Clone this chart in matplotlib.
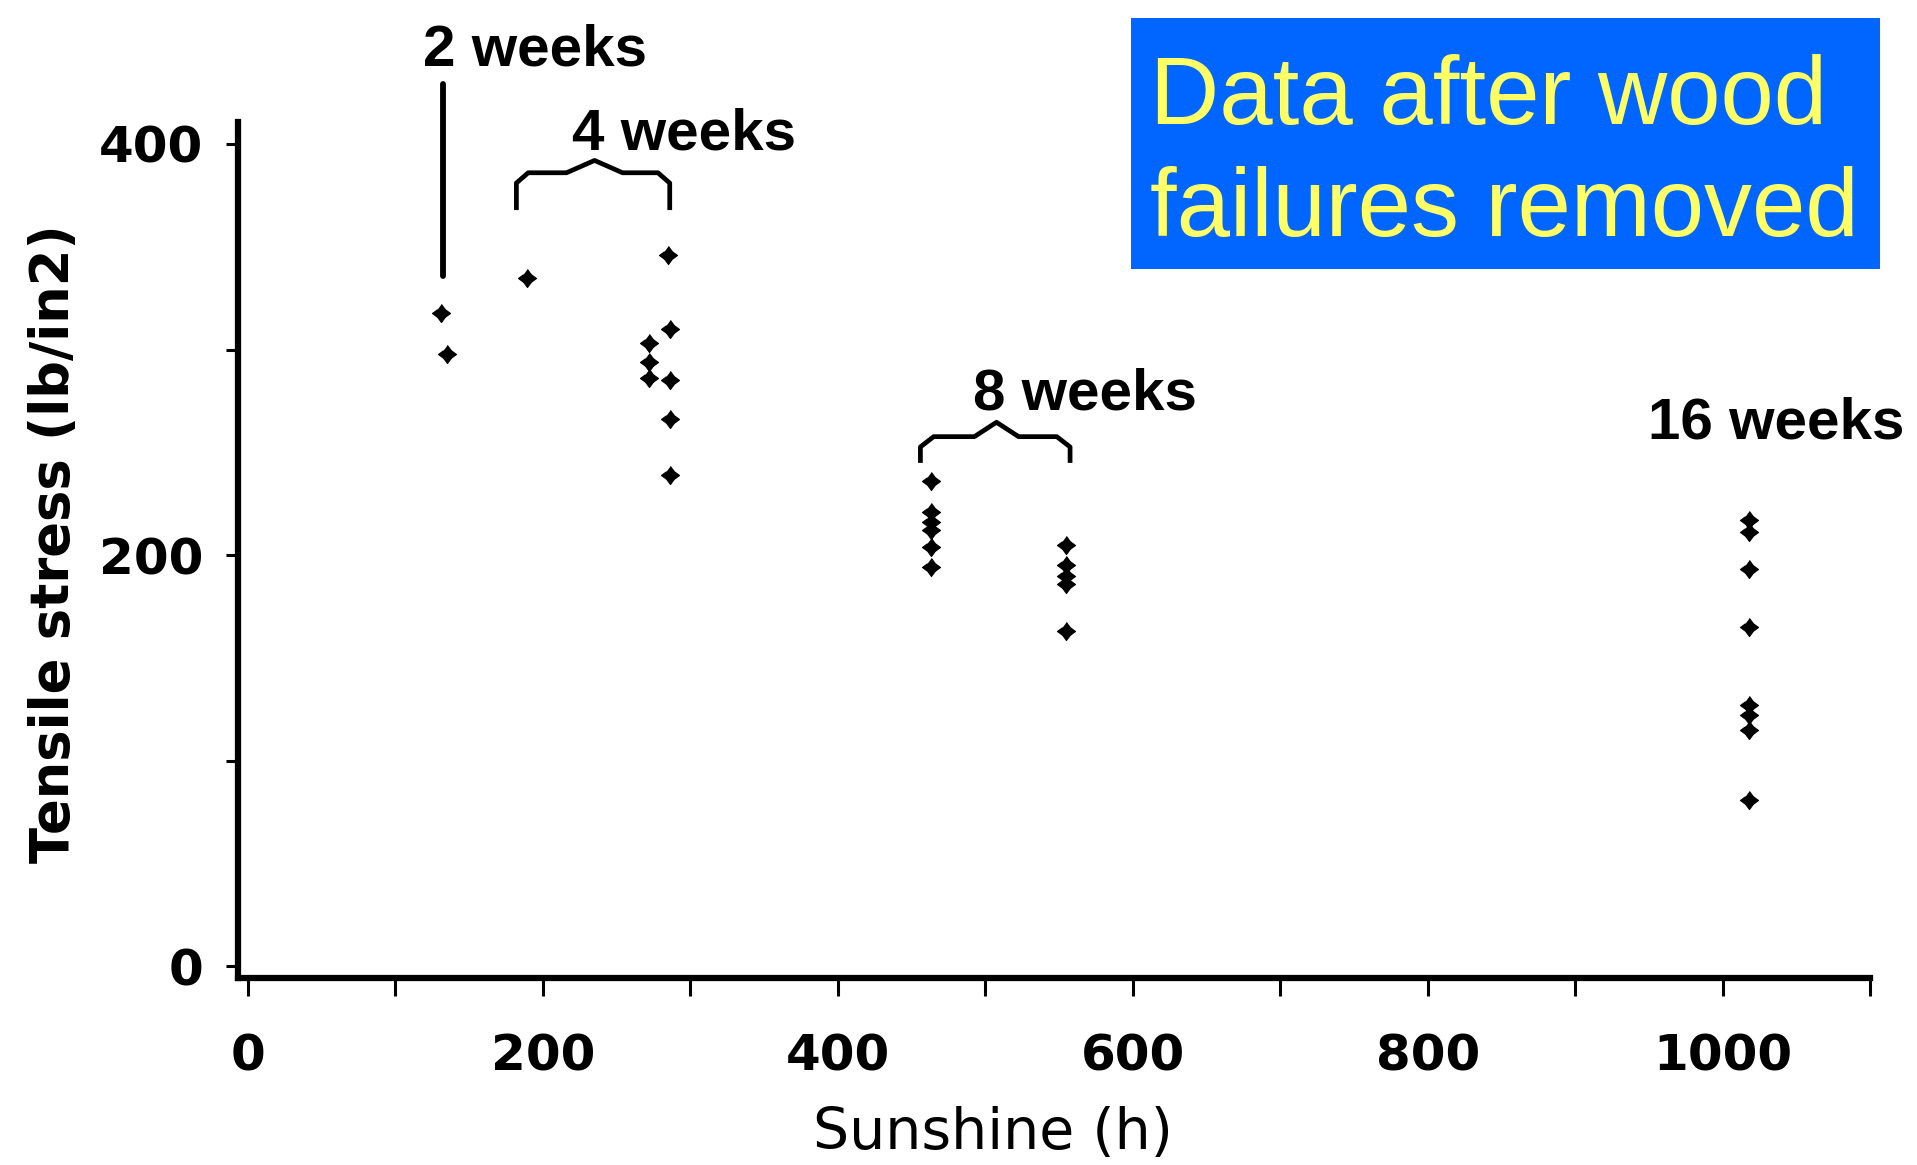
import matplotlib
matplotlib.use("Agg")
import matplotlib.pyplot as plt
from matplotlib.patches import Rectangle
import numpy as np

# ---------------- data ----------------
sunshine_2wk = [131, 135]
stress_2wk = [318, 298]

sunshine_4wk = [189, 272, 272, 272, 285, 286, 286, 286, 286]
stress_4wk = [335, 303, 294, 286, 346, 310, 285, 266, 239]

sunshine_8wk = [463, 463, 463, 463, 463, 463, 555, 555, 555, 555, 555]
stress_8wk = [236, 221, 216, 212, 204, 194, 205, 195, 190, 186, 163]

sunshine_16wk = [1018, 1018, 1018, 1018, 1018, 1018, 1018, 1018]
stress_16wk = [217, 211, 193, 165, 127, 122, 115, 81]

x_ticks_major = [0, 200, 400, 600, 800, 1000]
x_tick_labels = ["0", "200", "400", "600", "800", "1000"]
x_ticks_minor = [100, 300, 500, 700, 900, 1100]
y_ticks_major = [0, 200, 400]
y_tick_labels = ["0", "200", "400"]
y_ticks_minor = [100, 300]

group_labels = ["2 weeks", "4 weeks", "8 weeks", "16 weeks"]
note_lines = ["Data after wood", "failures removed"]

# ---------------- figure ----------------
W, H = 1917, 1165
fig = plt.figure(figsize=(W / 100, H / 100), dpi=100)
fig.patch.set_facecolor("white")

ax = fig.add_axes([238 / W, 1 - 978 / H, (1870 - 238) / W, (978 - 122) / H])
ax.set_xlim(-6.8, 1100)
ax.set_ylim(-5.8, 410.7)

# marker: fat 4-point star
ang = np.deg2rad(np.arange(8) * 45)
rad = np.where(np.arange(8) % 2 == 0, 1.0, 0.6)
star = list(zip(rad * np.sin(ang), rad * np.cos(ang)))

for xs, ys in [(sunshine_2wk, stress_2wk), (sunshine_4wk, stress_4wk),
               (sunshine_8wk, stress_8wk), (sunshine_16wk, stress_16wk)]:
    ax.plot(xs, ys, linestyle="none", marker=star, ms=13, color="black",
            mec="black", mew=0.8, clip_on=False)

# spines
for s in ["top", "right"]:
    ax.spines[s].set_visible(False)
for s in ["left", "bottom"]:
    ax.spines[s].set_linewidth(4.5)
    ax.spines[s].set_color("black")

ax.set_xticks(x_ticks_major)
ax.set_xticklabels(x_tick_labels)
ax.set_xticks(x_ticks_minor, minor=True)
ax.set_yticks(y_ticks_major)
ax.set_yticklabels(y_tick_labels)
ax.set_yticks(y_ticks_minor, minor=True)

ax.tick_params(axis="x", which="both", direction="out", length=13, width=2.2,
               pad=26, labelsize=36, color="black")
ax.tick_params(axis="y", which="both", direction="out", length=9, width=2.2,
               pad=16, labelsize=36, color="black")
for lab in ax.get_xticklabels() + ax.get_yticklabels():
    lab.set_family("DejaVu Sans")
    lab.set_fontweight("bold")

ax.set_xlabel("Sunshine (h)", fontsize=41, family="DejaVu Sans")
ax.xaxis.set_label_coords((993 - 238) / (1870 - 238), -(1106 - 978) / (978 - 122))
ax.set_ylabel("Tensile stress (lb/in2)", fontsize=38, family="DejaVu Sans",
              fontweight="bold")
ax.yaxis.set_label_coords(-(238 - 80) / (1870 - 238), (978 - 544) / (978 - 122))

# ---------------- annotations ----------------
ann_kw = dict(fontsize=42, fontweight="bold",
              family=["Liberation Sans", "DejaVu Sans"], ha="left",
              va="baseline", clip_on=False)
ax.text(118.7, 438.4, group_labels[0], **ann_kw)
ax.text(219.7, 397.1, group_labels[1], **ann_kw)
ax.text(491.7, 270.6, group_labels[2], **ann_kw)
ax.text(949.5, 256.9, group_labels[3], **ann_kw)

# 2-week vertical marker line
ax.plot([132, 132], [336, 429], color="black", lw=4.2, clip_on=False,
        solid_capstyle="round")


def brace(x0, x1, ybot, ytop, xm, peak, w, rx, ry):
    bx = [x0, x0, x0 + rx, xm - w, xm, xm + w, x1 - rx, x1, x1]
    by = [ybot, ytop - ry, ytop, ytop, ytop + peak, ytop, ytop, ytop - ry, ybot]
    ax.plot(bx, by, color="black", lw=3.4, clip_on=False,
            solid_joinstyle="round")


brace(182, 286, 369, 386, 235, 6, 19, 8, 5)
brace(456, 557.5, 246, 257.6, 507.6, 7, 15, 9, 5)

# ---------------- blue note box ----------------
fig.patches.append(Rectangle((1131 / W, 1 - 269 / H), (1880 - 1131) / W,
                             (269 - 18) / H, transform=fig.transFigure,
                             facecolor="#0066FF", edgecolor="none", zorder=5))
fig.text(1150 / W, 1 - 124 / H, note_lines[0], fontsize=69,
         family=["Liberation Sans", "DejaVu Sans"], color="#FFFF66",
         ha="left", va="baseline", zorder=6)
fig.text(1150 / W, 1 - 236 / H, note_lines[1], fontsize=69,
         family=["Liberation Sans", "DejaVu Sans"], color="#FFFF66",
         ha="left", va="baseline", zorder=6)

fig.savefig("out.png", dpi=100, facecolor="white")
